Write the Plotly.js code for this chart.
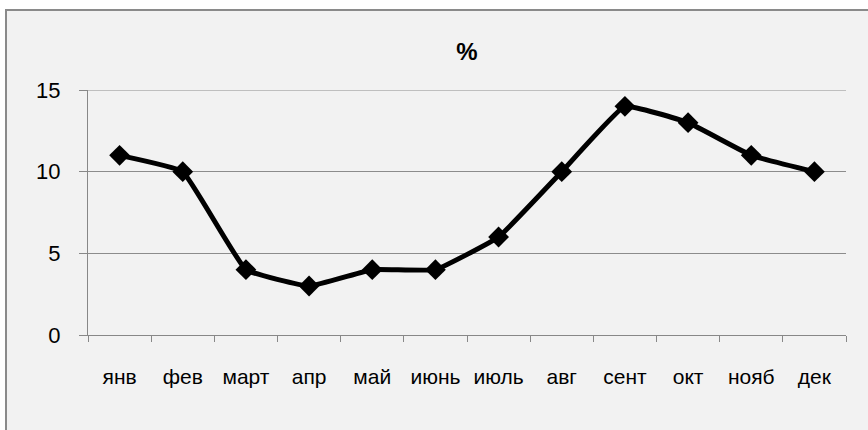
<!DOCTYPE html>
<html>
<head>
<meta charset="utf-8">
<script src="https://cdn.plot.ly/plotly-3.0.1.min.js"></script>
<style>html,body{margin:0;padding:0;background:#fff;}#chart{width:868px;height:430px;}</style>
</head>
<body>
<div id="chart"></div>
<script>
var months = ["янв","фев","март","апр","май","июнь","июль","авг","сент","окт","нояб","дек"];
var percent = [11, 10, 4, 3, 4, 4, 6, 10, 14, 13, 11, 10];
var yTicks = [0, 5, 10, 15];
var chartTitle = "%";

var W = 868, H = 430, mL = 88, mR = 22, mT = 90, mB = 95;
var pw = W - mL - mR, ph = H - mT - mB;
function px(x){ return (x - mL) / pw; }
function py(y){ return (H - mB - y) / ph; }
var FONT = "Liberation Sans, Arial, sans-serif";

var trace = {
  x: months, y: percent, type: "scatter", mode: "lines+markers",
  line: {color: "#000", width: 5, shape: "spline", smoothing: 0.3},
  marker: {symbol: "diamond", size: 16, color: "#000"},
  hoverinfo: "skip", cliponaxis: false
};

var yMax = yTicks[yTicks.length - 1];

var layout = {
  width: W, height: H,
  margin: {l: mL, r: mR, t: mT, b: mB, pad: 0},
  paper_bgcolor: "#ffffff",
  plot_bgcolor: "rgba(0,0,0,0)",
  showlegend: false,
  font: {family: FONT, size: 21, color: "#000"},
  title: {text: "<b>" + chartTitle + "</b>", x: 0.5, xref: "paper", y: 1 - 52/H, yanchor: "middle",
          font: {size: 24, family: FONT, color: "#000"}},
  xaxis: {
    type: "category", range: [-0.5, 11.5], fixedrange: true,
    showgrid: false, showline: true, linecolor: "#888", linewidth: 1,
    ticks: "outside", tickson: "boundaries", ticklen: 6, tickcolor: "#888", tickwidth: 1,
    ticklabelstandoff: 23,
    tickfont: {size: 21, family: FONT, color: "#000"}, zeroline: false
  },
  yaxis: {
    range: [0, yMax], tickvals: yTicks, ticktext: yTicks.map(String), fixedrange: true,
    showgrid: true, gridcolor: "#8c8c8c", gridwidth: 1,
    showline: true, linecolor: "#888", linewidth: 1,
    ticks: "outside", ticklen: 8, tickcolor: "#888", tickwidth: 1,
    ticklabelstandoff: 14,
    tickfont: {size: 22, family: FONT, color: "#000"}, zeroline: false
  },
  shapes: [{
    type: "rect", layer: "below", xref: "paper", yref: "paper",
    x0: px(6), x1: px(880), y0: py(445), y1: py(10),
    fillcolor: "#f2f2f2", line: {color: "#8a8a8a", width: 2}
  }, {
    type: "line", layer: "below", xref: "paper", yref: "y",
    x0: 0, x1: 1, y0: yMax, y1: yMax,
    line: {color: "#8c8c8c", width: 1}
  }]
};

Plotly.newPlot("chart", [trace], layout, {staticPlot: true, displayModeBar: false});
</script>
</body>
</html>
